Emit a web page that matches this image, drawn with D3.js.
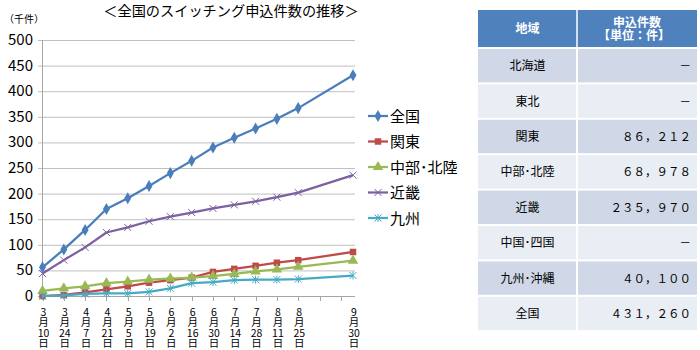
<!DOCTYPE html>
<html>
<head>
<meta charset="utf-8">
<script src="https://cdn.jsdelivr.net/npm/d3@7"></script>
<style>
  body { margin: 0; background: #fff; }
  #chart { position: relative; width: 700px; height: 350px; }
  svg, .xlab { font-family: "Noto Sans CJK JP", "Noto Sans", sans-serif; }
  .xlab { position: absolute; width: 30px; text-align: center; font-size: 10.5px; line-height: 10.6px; color: #000; }
</style>
</head>
<body>
<div id="chart"></div>
<script>
// dates of each count (2016)
const dates = ["2016-03-10", "2016-03-24", "2016-04-07", "2016-04-21", "2016-05-05", "2016-05-19",
  "2016-06-02", "2016-06-16", "2016-06-30", "2016-07-14", "2016-07-28", "2016-08-11",
  "2016-08-25", "2016-09-30"];

// thousands of applications
const zenkoku = [56, 91, 129, 170, 191, 215, 240, 264, 290, 309, 327, 346, 367, 431];
const kanto   = [0, 2, 7, 13, 19, 26, 31, 36, 47, 53, 59, 65, 70, 86];
const chubu   = [10, 15, 19, 25, 28, 32, 34, 36, 39, 43, 48, 52, 57, 69];
const kinki   = [44, 70, 95, 124, 134, 146, 155, 163, 171, 178, 185, 193, 202, 236];
const kyushu  = [0, 1, 4, 5, 5, 8, 15, 25, 27, 31, 32, 32, 33, 40];

const seriesNames = ["全国", "関東", "中部･北陸", "近畿", "九州"];
const yTicks = [0, 50, 100, 150, 200, 250, 300, 350, 400, 450, 500];

// table on the right
const tableRegions = ["北海道", "東北", "関東", "中部･北陸", "近畿", "中国･四国", "九州･沖縄", "全国"];
const tableValues  = ["－", "－", "８６，２１２", "６８，９７８", "２３５，９７０", "－", "４０，１００", "４３１，２６０"];

const W = 700, H = 350;
const root = d3.select("#chart");
const svg = root.append("svg").attr("width", W).attr("height", H);

const parse = d3.timeParse("%Y-%m-%d");
const dts = dates.map(parse);

const x = d3.scaleTime().domain([dts[0], dts[dts.length - 1]]).range([42.5, 353]);
const y = d3.scaleLinear().domain([0, 500]).range([296, 40]);

const series = [
  { name: seriesNames[0], values: zenkoku, color: "#4A7EBB", sym: "diamond" },
  { name: seriesNames[1], values: kanto,   color: "#BE4B48", sym: "square" },
  { name: seriesNames[2], values: chubu,   color: "#98B954", sym: "triangle" },
  { name: seriesNames[3], values: kinki,   color: "#7D60A0", sym: "times" },
  { name: seriesNames[4], values: kyushu,  color: "#46AAC5", sym: "asterisk" }
];

// title
svg.append("text")
  .attr("x", 231).attr("y", 16)
  .attr("text-anchor", "middle")
  .style("font-size", "14.2px")
  .text("＜全国のスイッチング申込件数の推移＞");

svg.append("text")
  .attr("x", 4).attr("y", 23)
  .style("font-size", "10px")
  .text("（千件）");

// gridlines
svg.append("g")
  .selectAll("line")
  .data(yTicks.filter(d => d > 0))
  .join("line")
  .attr("x1", 38).attr("x2", 355)
  .attr("y1", d => y(d) + 0.5).attr("y2", d => y(d) + 0.5)
  .attr("stroke", "#BFBFBF");

// y axis
svg.append("line")
  .attr("x1", 42.5).attr("x2", 42.5)
  .attr("y1", y(500)).attr("y2", y(0))
  .attr("stroke", "#A6A6A6");

svg.append("g")
  .selectAll("text")
  .data(yTicks)
  .join("text")
  .attr("x", 33)
  .attr("y", d => y(d) + 5)
  .attr("text-anchor", "end")
  .style("font-size", "15px")
  .text(d => d);

// x axis
svg.append("line")
  .attr("x1", 38).attr("x2", 355)
  .attr("y1", y(0) + 0.5).attr("y2", y(0) + 0.5)
  .attr("stroke", "#A6A6A6");

const tickDates = d3.timeDay.every(1).range(dts[0], d3.timeDay.offset(dts[dts.length - 1], 1))
  .filter((d, i) => i % 14 === 0);
svg.append("g")
  .selectAll("line")
  .data(tickDates)
  .join("line")
  .attr("x1", d => Math.round(x(d)) + 0.5).attr("x2", d => Math.round(x(d)) + 0.5)
  .attr("y1", y(0)).attr("y2", y(0) + 5)
  .attr("stroke", "#A6A6A6");

// stacked vertical date labels: month / 月 / day / 日, one block each
const fmtM = d3.timeFormat("%-m"), fmtD = d3.timeFormat("%-d");
root.selectAll(".xlab")
  .data(dts)
  .join("div")
  .attr("class", "xlab")
  .style("left", d => `${x(d) + 1 - 15}px`)
  .style("top", "306.5px")
  .html(d => `${fmtM(d)}<br>月<br>${fmtD(d)}<br>日`);

// markers
function marker(sel, sym, color) {
  if (sym === "diamond") {
    sel.append("path").attr("d", d3.symbol(d3.symbolDiamond, 42)()).attr("fill", color);
  } else if (sym === "square") {
    sel.append("path").attr("d", d3.symbol(d3.symbolSquare, 42)()).attr("fill", color);
  } else if (sym === "triangle") {
    sel.append("path").attr("d", d3.symbol(d3.symbolTriangle, 48)()).attr("fill", color);
  } else if (sym === "times") {
    sel.append("path").attr("d", "M-3.5,-3.5L3.5,3.5M-3.5,3.5L3.5,-3.5")
      .attr("stroke", color).attr("stroke-width", 1).attr("fill", "none");
  } else {
    sel.append("path").attr("d", "M-3.5,-3.5L3.5,3.5M-3.5,3.5L3.5,-3.5M0,-4L0,4")
      .attr("stroke", color).attr("stroke-width", 1).attr("fill", "none");
  }
}

const line = d3.line()
  .x((d, i) => x(dts[i]))
  .y(d => y(d));

series.forEach(s => {
  svg.append("path")
    .datum(s.values)
    .attr("fill", "none")
    .attr("stroke", s.color)
    .attr("stroke-width", 2.25)
    .attr("stroke-linejoin", "round")
    .attr("d", line);
  svg.append("g")
    .selectAll("g")
    .data(s.values)
    .join("g")
    .attr("transform", (d, i) => `translate(${x(dts[i])},${y(d)})`)
    .each(function () { marker(d3.select(this), s.sym, s.color); });
});

// legend
const leg = svg.append("g")
  .selectAll("g")
  .data(series)
  .join("g")
  .attr("transform", (d, i) => `translate(368,${116 + i * 25.5})`);
leg.append("line")
  .attr("x1", 0).attr("x2", 20)
  .attr("stroke", d => d.color).attr("stroke-width", 2.25);
leg.append("g")
  .attr("transform", "translate(10,0)")
  .each(function (d) { marker(d3.select(this), d.sym, d.color); });
leg.append("text")
  .attr("x", 22).attr("y", 5.5)
  .style("font-size", "15px")
  .text(d => d.name);

// table
const tx0 = 478, tx1 = 577, tx2 = 697;
const headTop = 10, headBot = 47, rowH = 35.4;

const table = svg.append("g");
table.append("rect")
  .attr("x", tx0).attr("y", headTop)
  .attr("width", tx2 - tx0).attr("height", headBot - headTop)
  .attr("fill", "#4F81BD");
table.append("line")
  .attr("x1", tx1).attr("x2", tx1)
  .attr("y1", headTop).attr("y2", headBot)
  .attr("stroke", "#fff").attr("stroke-width", 1.5);

table.append("text")
  .attr("x", (tx0 + tx1) / 2).attr("y", 33)
  .attr("text-anchor", "middle")
  .attr("fill", "#fff").style("font-size", "12px").style("font-weight", "bold")
  .text("地域");
table.append("text")
  .attr("x", (tx1 + tx2) / 2).attr("y", 27)
  .attr("text-anchor", "middle")
  .attr("fill", "#fff").style("font-size", "12px").style("font-weight", "bold")
  .text("申込件数");
table.append("text")
  .attr("x", (tx1 + tx2) / 2 - 3).attr("y", 40)
  .attr("text-anchor", "middle")
  .attr("fill", "#fff").style("font-size", "12px").style("font-weight", "bold")
  .text("【単位：件】");

const rows = table.selectAll(".row")
  .data(tableRegions)
  .join("g")
  .attr("class", "row")
  .attr("transform", (d, i) => `translate(0,${headBot + 2 + i * rowH})`);

rows.append("rect")
  .attr("x", tx0).attr("y", 0)
  .attr("width", tx1 - tx0 - 1).attr("height", rowH - 2)
  .attr("fill", (d, i) => i % 2 === 0 ? "#D0D8E8" : "#E9EDF4");
rows.append("rect")
  .attr("x", tx1 + 1).attr("y", 0)
  .attr("width", tx2 - tx1 - 1).attr("height", rowH - 2)
  .attr("fill", (d, i) => i % 2 === 0 ? "#D0D8E8" : "#E9EDF4");

rows.append("text")
  .attr("x", (tx0 + tx1) / 2).attr("y", rowH / 2 + 3.5)
  .attr("text-anchor", "middle")
  .style("font-size", "12px")
  .text(d => d);
rows.append("text")
  .attr("x", 691).attr("y", rowH / 2 + 3.5)
  .attr("text-anchor", "end")
  .style("font-size", "11.5px")
  .text((d, i) => tableValues[i]);
</script>
</body>
</html>
